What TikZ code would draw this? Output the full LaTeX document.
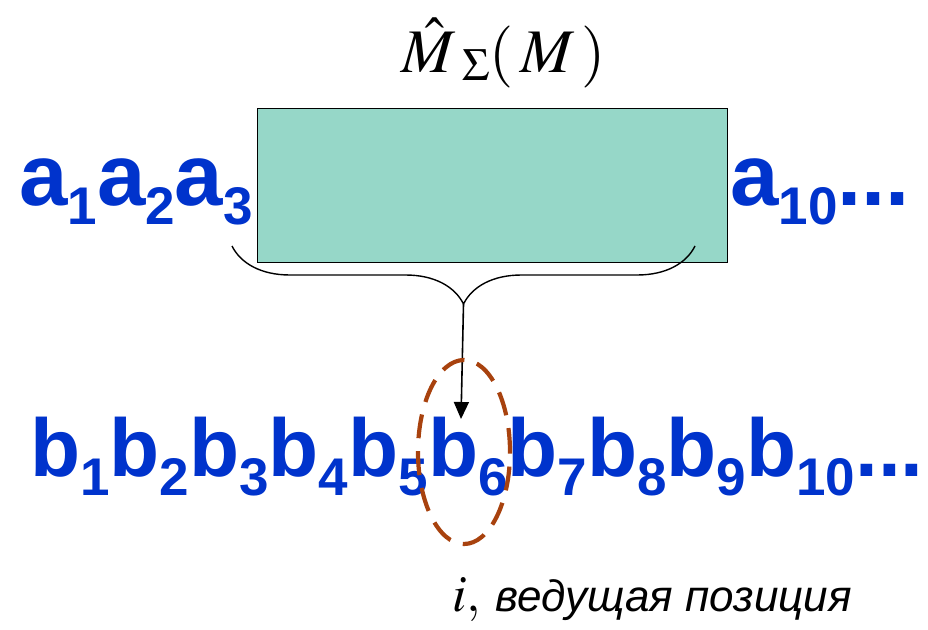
\documentclass[tikz,border=0pt]{standalone}
\usepackage{mathptmx}
\usepackage[no-math]{fontspec}
\setmainfont{Liberation Sans}
\setsansfont{Liberation Sans}
\definecolor{seqblue}{RGB}{0,51,204}
\definecolor{winteal}{RGB}{150,215,200}
\definecolor{markbrown}{RGB}{168,66,14}
\usetikzlibrary{arrows.meta, shapes.geometric, decorations.pathreplacing}
\newcommand{\idx}[1]{\raisebox{-19pt}{\fontsize{53}{53}\selectfont #1}}

\begin{document}
\begin{tikzpicture}[x=1pt, y=-1pt,
    seq/.style={text=seqblue, inner sep=0pt, anchor=base west,
      font=\bfseries\fontsize{87}{90}\selectfont},
    window/.style={fill=winteal, draw=black, line width=1.2pt, inner sep=0pt,
      minimum width=470pt, minimum height=154pt, anchor=north west},
    bracepath/.style={draw=black, line width=1.4pt,
      decorate, decoration={brace, mirror, amplitude=58pt}},
    pointer/.style={draw=black, line width=1.6pt, -{Triangle[length=17pt, width=15pt]}},
    lead/.style={ellipse, draw=markbrown, line width=4.2pt,
      dash pattern=on 24pt off 13pt, minimum width=92pt, minimum height=184pt},
  ]
    \useasboundingbox (0,0) rectangle (928,629);

    % window over the input word
    \node[window] (win) at (257,108) {};
    \node[seq] (arow) at (19,205) {a\idx1a\idx2a\idx3};
    \node[seq] (atail) at (730,205) {a\idx{10}...};

    \node[anchor=base west, inner sep=0pt] (title) at (401,72)
      {\fontsize{62}{62}\selectfont $\hat{M}\,\lower8pt\hbox{$\scriptstyle\Sigma$}(\,M\,)$};

    % brace and arrow to the output
    \coordinate (bl) at (232,246);
    \coordinate (br) at (695,246);
    \draw[bracepath] (bl) -- (br);
    \coordinate (tip) at (463.5,304);
    \coordinate (head) at (461,419);
    \draw[pointer] (tip) -- (head);

    % output word
    \node[seq, font=\bfseries\fontsize{82}{90}\selectfont] (brow) at (30,476)
      {b\idx1b\idx2b\idx3b\idx4b\idx5b\idx6b\idx7b\idx8b\idx9b\idx{10}...};
    \node[lead] (b6mark) at (464,452) {};

    \node[anchor=base west, inner sep=0pt] (caption) at (452,611)
      {\fontsize{52}{54}\selectfont $i,$ {\sffamily\itshape\fontsize{44}{46}\selectfont ведущая позиция}};
\end{tikzpicture}
\end{document}
